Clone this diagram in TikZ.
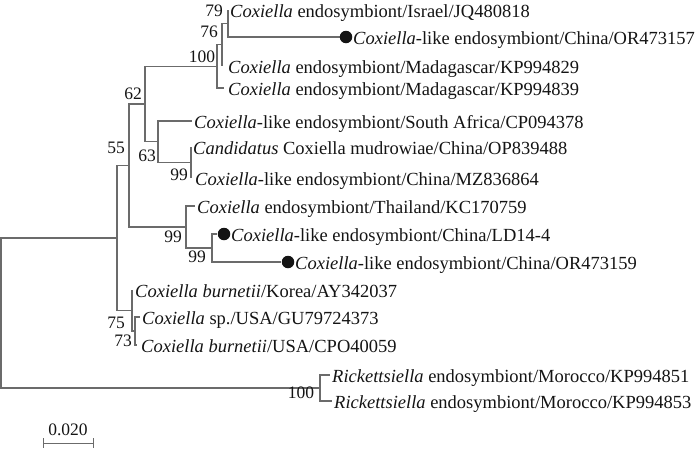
\documentclass[tikz,border=0pt]{standalone}
\usepackage{fontspec}
\setmainfont{Liberation Serif}
\begin{document}
\begin{tikzpicture}[x=1pt,y=-1pt,
  br/.style={draw=black!58, line width=1.2pt},
  leaf/.style={anchor=base west, inner sep=0pt, font=\fontsize{18.5}{20}\selectfont, text=black!92},
  boot/.style={anchor=center, inner sep=0pt, font=\fontsize{17.5}{19}\selectfont, text=black!92},
  dotm/.style={circle, fill=black!92, inner sep=0pt, minimum size=12.5pt}]
\useasboundingbox (0,0) rectangle (700,461);
% internal nodes
\coordinate (root) at (1,313);
\coordinate (nA) at (117,238);
\coordinate (nB) at (129,165.5);
\coordinate (n62) at (145,104);
\coordinate (n100) at (217,66.4);
\coordinate (n76) at (222,44.7);
\coordinate (n79) at (228,23.5);
\coordinate (n63) at (158,141.7);
\coordinate (n99b) at (191,162.5);
\coordinate (n99a) at (186,227);
\coordinate (n99c) at (212,248);
\coordinate (nC) at (132,310.5);
\coordinate (n73) at (135,331);
\coordinate (nRk) at (320,388);
% leaf tips
\coordinate (tIsr) at (228,10);
\coordinate (tO157) at (340,37);
\coordinate (tK29) at (222,66);
\coordinate (tK39) at (224,88);
\coordinate (tSA) at (192,121);
\coordinate (tCand) at (191,147);
\coordinate (tMZ) at (191,178);
\coordinate (tThai) at (195,206);
\coordinate (tLD) at (217,234);
\coordinate (tO159) at (281,262);
\coordinate (tKor) at (132,290);
\coordinate (tGU) at (140,317);
\coordinate (tCPO) at (137,345);
\coordinate (tK51) at (330,375);
\coordinate (tK53) at (332,401);
% branches
\draw[br] (root) |- (nA);
\draw[br] (root) |- (nRk);
\draw[br] (nA) |- (nB);
\draw[br] (nA) |- (nC);
\draw[br] (nB) |- (n62);
\draw[br] (nB) |- (n99a);
\draw[br] (n62) |- (n100);
\draw[br] (n62) |- (n63);
\draw[br] (n100) |- (n76);
\draw[br] (n100) |- (tK39);
\draw[br] (n76) |- (n79);
\draw[br] (n76) |- (tK29);
\draw[br] (n79) |- (tIsr);
\draw[br] (n79) |- (tO157);
\draw[br] (n63) |- (tSA);
\draw[br] (n63) |- (n99b);
\draw[br] (n99b) |- (tCand);
\draw[br] (n99b) |- (tMZ);
\draw[br] (n99a) |- (tThai);
\draw[br] (n99a) |- (n99c);
\draw[br] (n99c) |- (tLD);
\draw[br] (n99c) |- (tO159);
\draw[br] (nC) |- (tKor);
\draw[br] (nC) |- (n73);
\draw[br] (n73) |- (tGU);
\draw[br] (n73) |- (tCPO);
\draw[br] (nRk) |- (tK51);
\draw[br] (nRk) |- (tK53);
% dots
\node[dotm] (d157) at ([xshift=6pt]tO157) {};
\node[dotm] (dLD) at ([xshift=7pt]tLD) {};
\node[dotm] (d159) at ([xshift=7pt]tO159) {};
% leaf labels
\node[leaf] (lIsr) at ([shift={(2,7)}]tIsr) {\textit{Coxiella} endosymbiont/Israel/JQ480818};
\node[leaf] (l157) at ([shift={(13,7)}]tO157) {\textit{Coxiella}-like endosymbiont/China/OR473157};
\node[leaf] (lK29) at ([shift={(6,7)}]tK29) {\textit{Coxiella} endosymbiont/Madagascar/KP994829};
\node[leaf] (lK39) at ([shift={(4,7)}]tK39) {\textit{Coxiella} endosymbiont/Madagascar/KP994839};
\node[leaf] (lSA) at ([shift={(2,7)}]tSA) {\textit{Coxiella}-like endosymbiont/South Africa/CP094378};
\node[leaf] (lCand) at ([shift={(2,7)}]tCand) {\textit{Candidatus} Coxiella mudrowiae/China/OP839488};
\node[leaf] (lMZ) at ([shift={(4,7)}]tMZ) {\textit{Coxiella}-like endosymbiont/China/MZ836864};
\node[leaf] (lThai) at ([shift={(2,7)}]tThai) {\textit{Coxiella} endosymbiont/Thailand/KC170759};
\node[leaf] (lLD) at ([shift={(14,7)}]tLD) {\textit{Coxiella}-like endosymbiont/China/LD14-4};
\node[leaf] (l159) at ([shift={(14,7)}]tO159) {\textit{Coxiella}-like endosymbiont/China/OR473159};
\node[leaf] (lKor) at ([shift={(3,7)}]tKor) {\textit{Coxiella burnetii}/Korea/AY342037};
\node[leaf] (lGU) at ([shift={(2,7)}]tGU) {\textit{Coxiella} sp./USA/GU79724373};
\node[leaf] (lCPO) at ([shift={(4,7)}]tCPO) {\textit{Coxiella burnetii}/USA/CPO40059};
\node[leaf] (lK51) at ([shift={(2,7)}]tK51) {\textit{Rickettsiella} endosymbiont/Morocco/KP994851};
\node[leaf] (lK53) at ([shift={(2,7)}]tK53) {\textit{Rickettsiella} endosymbiont/Morocco/KP994853};
% bootstrap values
\node[boot] (b79) at (214,11) {79};
\node[boot] (b76) at (209,32) {76};
\node[boot] (b100a) at (202,57) {100};
\node[boot] (b62) at (133,94) {62};
\node[boot] (b55) at (116,148) {55};
\node[boot] (b63) at (147,156) {63};
\node[boot] (b99b) at (179,175) {99};
\node[boot] (b99a) at (173,237) {99};
\node[boot] (b99c) at (197,257) {99};
\node[boot] (b75) at (116,323) {75};
\node[boot] (b73) at (123,341) {73};
\node[boot] (b100b) at (301,393) {100};
% scale bar
\coordinate (sL) at (43,443);
\coordinate (sR) at (93,443);
\draw[br, line width=1pt] (sL) -- (sR);
\draw[br, line width=1pt] ([yshift=5pt]sL) -- ([yshift=-5pt]sL);
\draw[br, line width=1pt] ([yshift=5pt]sR) -- ([yshift=-5pt]sR);
\node[boot] (scl) at (68,430) {0.020};
\end{tikzpicture}
\end{document}
